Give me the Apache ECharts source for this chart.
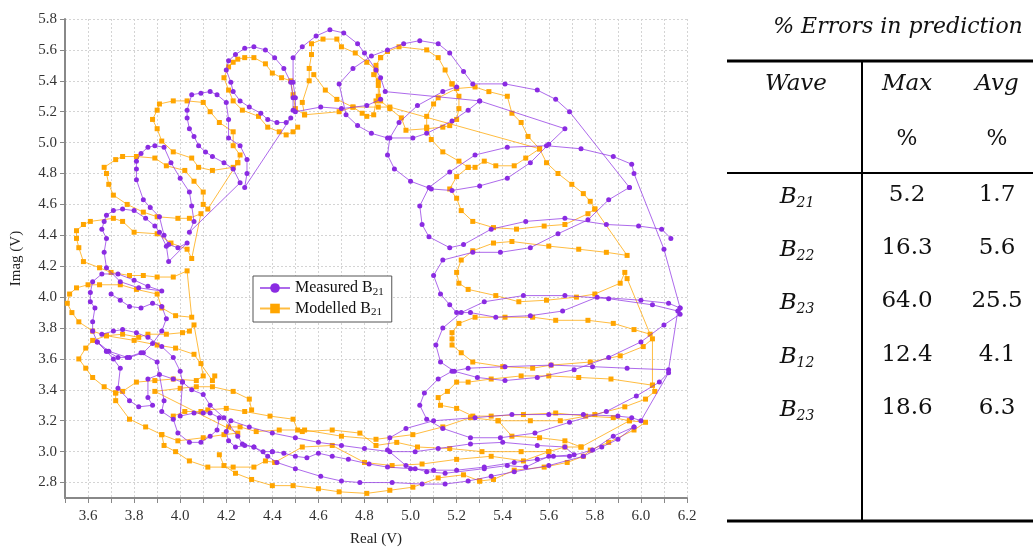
<!DOCTYPE html>
<html>
<head>
<meta charset="utf-8">
<script src="https://cdn.jsdelivr.net/npm/echarts@6/dist/echarts.min.js"></script>
<style>
  html, body { margin: 0; padding: 0; background: #fff; }
  #chart { width: 1033px; height: 552px; }
</style>
</head>
<body>
<div id="chart"></div>
<script>
// ---- measured B21 (purple) ----
const measuredUpperLeft = [
  [4.49,5.21],[4.49,5.29],[4.48,5.39],[4.45,5.48],[4.41,5.55],[4.37,5.60],[4.32,5.62],[4.28,5.61],[4.24,5.57],[4.21,5.53],
  [4.20,5.47],[4.22,5.39],[4.23,5.33],[4.26,5.27],[4.30,5.23],[4.35,5.19],[4.38,5.15],[4.42,5.13],[4.46,5.13],[4.48,5.16],
  [4.28,4.71],[4.29,4.80],[4.29,4.89],[4.26,4.98],[4.21,5.03],[4.21,5.15],[4.20,5.26],[4.16,5.31],[4.13,5.33],[4.09,5.32],
  [4.05,5.31],[4.03,5.21],[4.03,5.16],[4.04,5.09],[4.06,5.04],[4.08,4.98],[4.11,4.94],[4.14,4.91],[4.19,4.87],[4.23,4.83],[4.26,4.74],
  [4.04,4.42],[4.06,4.49],[4.05,4.59],[4.04,4.68],[4.00,4.77],[3.96,4.87],[3.93,4.97],[3.89,4.98],[3.86,4.97],[3.83,4.93],
  [3.81,4.88],[3.81,4.83],[3.81,4.76],[3.84,4.63],[3.87,4.58],[3.91,4.52],[3.93,4.40],[3.95,4.34],[3.99,4.32],[4.03,4.35],
  [3.95,4.23],[3.94,4.33],[3.91,4.42],[3.89,4.46],[3.85,4.51],[3.80,4.56],[3.75,4.57],[3.71,4.56],[3.68,4.53],[3.67,4.49],
  [3.66,4.44],[3.68,4.38],[3.67,4.29],[3.68,4.19],[3.74,4.10],[3.82,4.06],[3.92,4.04],
  [3.86,4.07],[3.80,4.11],[3.73,4.15],[3.66,4.15],[3.62,4.10],[3.61,4.03],[3.61,3.97],[3.63,3.93],[3.62,3.84],[3.62,3.78],
  [3.64,3.71],[3.68,3.65],[3.73,3.61],[3.78,3.61],[3.84,3.64],[3.88,3.70],[3.92,3.78],[3.94,3.86],[3.92,3.94],[3.88,3.96],
  [3.83,3.93],[3.78,3.94],[3.74,3.98],[3.70,4.02]
];
const measuredLowerLeft = [
  [3.66,3.76],[3.71,3.78],[3.75,3.79],[3.81,3.77],[3.86,3.74],[3.92,3.68],[3.97,3.61],[4.00,3.52],[4.01,3.45],[3.97,3.47],
  [3.91,3.50],[3.86,3.47],[3.86,3.35],[3.88,3.30],[3.82,3.29],[3.78,3.33],[3.73,3.41],[3.74,3.54],[3.71,3.60],[3.68,3.65],
  [3.64,3.71],[3.69,3.65],[3.77,3.61],[3.83,3.64],[3.90,3.58],[3.93,3.33],[3.92,3.26],[3.97,3.21],[3.99,3.12],[4.04,3.06],
  [4.09,3.06],[4.13,3.10],[4.16,3.14],[4.17,3.22],[4.13,3.25],[4.10,3.25],[4.06,3.25],[4.00,3.23],[4.01,3.45],[4.05,3.40],
  [4.10,3.37],[4.13,3.30],[4.19,3.22],[4.25,3.10],[4.27,3.05],[4.32,3.03],[4.36,3.00],[4.40,3.00]
];
const measuredBottom = [
  [4.40,3.00],[4.45,2.99],[4.50,2.97],[4.55,2.96],[4.60,2.99],[4.66,2.97],[4.73,2.95],[4.82,2.92],[4.90,2.90],[5.00,2.89],
  [5.10,2.88],[5.20,2.88],[5.32,2.90],[5.45,2.93],[5.55,2.95],[5.62,2.97],[5.71,2.98],[5.67,3.03],[5.55,3.04],[5.40,3.06],
  [5.26,3.05],[5.12,3.02],[5.02,3.00],[4.91,3.00],[4.80,3.02],[4.70,3.04],[4.60,3.06],[4.50,3.09],[4.40,3.12],[4.30,3.16],
  [4.22,3.20],[4.20,3.13],[4.21,3.07],[4.24,3.03],[4.28,3.04],[4.32,3.03],[4.38,2.97],[4.42,2.93],[4.50,2.89],[4.61,2.84],
  [4.70,2.81],[4.78,2.80],[4.92,2.80],[5.05,2.79],[5.15,2.79],[5.25,2.81],[5.35,2.84],[5.45,2.87],[5.60,2.91],[5.75,2.97],
  [5.83,3.03],[5.90,3.08],[5.97,3.16]
];
const measuredTop = [
  [4.87,5.28],[4.81,5.24],[4.70,5.22],[4.61,5.23],[4.50,5.20],[4.50,5.29],[4.49,5.39],[4.49,5.55],[4.53,5.62],[4.59,5.69],
  [4.65,5.73],[4.71,5.71],[4.77,5.64],[4.80,5.58],[4.85,5.47],[4.87,5.42],[4.89,5.33],
  [5.30,5.27],[5.25,5.21],[5.18,5.14],[5.07,5.06],[5.01,5.03],[4.90,5.03],[4.83,5.06],[4.77,5.11],[4.72,5.18],[4.69,5.38],
  [4.75,5.48],[4.83,5.56],[4.90,5.60],[4.97,5.64],[5.04,5.66],[5.12,5.64],[5.17,5.58],[5.23,5.46],[5.27,5.38],[5.41,5.38],
  [5.55,5.34],[5.63,5.28],[5.69,5.20],[5.95,4.71]
];
const measuredInnerTop = [
  [5.20,5.36],[5.14,5.33],[5.03,5.24],[4.95,5.13],[4.91,5.03],[4.90,4.92],[4.93,4.83],[5.00,4.75],[5.09,4.70],[5.18,4.69],
  [5.30,4.72],[5.42,4.77],[5.52,4.87],[5.60,4.99],[5.67,5.09],[5.30,5.27]
];
const measuredRight = [
  [5.95,4.71],[5.86,4.63],[5.77,4.50],[5.64,4.41],[5.52,4.32],[5.39,4.29],[5.27,4.29],[5.14,4.24],[5.10,4.14],[5.13,4.02],
  [5.17,3.95],[5.20,3.90],[5.26,3.90],[5.37,3.87],[5.52,3.88],[5.66,3.91],[5.81,4.00],[6.00,3.98],[6.12,3.96],[6.17,3.93],
  [6.17,3.89],[6.10,3.82],[6.00,3.71],[5.86,3.61],[5.71,3.53],[5.55,3.48],[5.41,3.46],[5.29,3.48],[5.19,3.52],[5.13,3.58],
  [5.11,3.69],[5.14,3.80],[5.22,3.90],[5.32,3.97],[5.49,4.01],[5.67,4.01],[5.86,3.99],[6.05,3.95],[6.16,3.91],[6.12,3.53],
  [5.94,3.54],[5.79,3.55],[5.61,3.56],[5.41,3.55],[5.25,3.54],[5.18,3.52],[5.12,3.47],[5.06,3.38],[5.04,3.30],[5.07,3.21],
  [5.14,3.15],[5.26,3.09],[5.39,3.09],[5.54,3.12],[5.69,3.19],[5.85,3.26],[5.98,3.36],[6.08,3.45],[6.12,3.51],[6.00,3.20],
  [5.96,3.22],[5.90,3.23],[5.75,3.24],[5.60,3.24],[5.44,3.24],[5.28,3.22],[5.10,3.20],[4.98,3.15],[4.91,3.09],[4.90,3.01],
  [4.98,2.91],[5.02,2.89],[5.07,2.87],[5.15,2.86],[5.32,2.89],[5.42,2.91],[5.50,2.90],[5.60,2.97],[5.69,2.97],[5.79,3.01],
  [5.88,3.10],[5.97,3.16]
];
const measuredOuter = [
  [6.17,3.93],[6.10,4.31],[5.97,4.80],[5.96,4.86],[5.88,4.91],[5.74,4.96],[5.59,4.98],[5.42,4.97],[5.28,4.92],[5.17,4.81],
  [5.08,4.71],[5.04,4.59],[5.05,4.47],[5.08,4.39],[5.17,4.32],[5.23,4.34],[5.35,4.44],[5.50,4.49],[5.67,4.51],[5.85,4.47],
  [5.99,4.46],[6.09,4.44],[6.13,4.38]
];

// ---- modelled B21 (orange) ----
const modelledTop = [
  [4.51,5.10],[4.49,5.07],[4.46,5.05],[4.43,5.07],[4.38,5.10],[4.34,5.17],[4.27,5.21],[4.23,5.27],[4.21,5.34],[4.19,5.42],
  [4.21,5.49],[4.23,5.52],[4.25,5.54],[4.28,5.55],[4.32,5.55],[4.37,5.51],[4.40,5.45],[4.44,5.42],[4.48,5.40],[4.49,5.31],
  [4.50,5.22],[4.54,5.18],[4.53,5.26],[4.56,5.40],[4.56,5.48],[4.57,5.57],[4.57,5.64],[4.62,5.67],[4.68,5.67],[4.70,5.62],
  [4.76,5.58],[4.81,5.52],[4.85,5.47],[4.86,5.37],[4.86,5.30],[4.85,5.27],[4.84,5.18],[4.81,5.17],[4.79,5.19],[4.75,5.23],
  [4.68,5.28],[4.63,5.34],[4.58,5.44]
];
const modelledTopRight = [
  [4.87,5.55],[4.85,5.50],[4.84,5.44],[4.86,5.40],[4.87,5.27],[4.91,5.22],[4.96,5.16],[4.98,5.08],[5.07,5.09],[5.14,5.10],
  [5.17,5.11],[5.20,5.15],[5.21,5.22],[5.21,5.30],[5.18,5.38],[5.15,5.47],[5.12,5.55],[5.07,5.60],[4.95,5.62],[4.90,5.59],
  [4.87,5.55]
];
const modelledChord = [[4.54,5.18],[4.69,5.20],[4.75,5.23],[4.86,5.23],[4.91,5.23],[5.56,4.96]];
const modelledLoopE = [
  [5.20,5.35],[5.12,5.29],[5.10,5.25],[5.07,5.17],[5.07,5.10],[5.09,5.02],[5.14,4.94],[5.21,4.88],[5.25,4.84],[5.28,4.84],
  [5.32,4.88],[5.37,4.85],[5.45,4.85],[5.50,4.90],[5.56,4.96]
];
const modelledLoopE2 = [
  [5.80,4.57],[5.77,4.54],[5.67,4.47],[5.58,4.46],[5.46,4.44],[5.36,4.45],[5.27,4.49],[5.22,4.56],[5.20,4.64],[5.17,4.70],
  [5.20,4.78],[5.25,4.84]
];
const modelledRight = [
  [5.18,5.38],[5.20,5.35],[5.28,5.36],[5.34,5.33],[5.42,5.30],[5.44,5.19],[5.48,5.13],[5.51,5.04],[5.56,4.96],[5.59,4.87],
  [5.64,4.80],[5.70,4.73],[5.75,4.67],[5.78,4.62],[5.80,4.57],[5.94,4.27],
  [5.85,4.29],[5.73,4.31],[5.60,4.33],[5.44,4.36],[5.36,4.35],[5.27,4.30],[5.22,4.24],[5.20,4.16],[5.21,4.09],[5.25,4.05],
  [5.37,4.01],[5.47,3.97],[5.59,3.98],[5.72,4.00],[5.80,4.02],[5.91,4.09],[5.93,4.16],[5.94,4.12],[6.04,3.76],
  [5.97,3.79],[5.88,3.83],[5.77,3.85],[5.63,3.85],[5.53,3.87],[5.41,3.87],[5.28,3.87],[5.21,3.83],[5.18,3.77],[5.18,3.73],
  [5.18,3.69],[5.22,3.64],[5.27,3.58],[5.40,3.55],[5.53,3.54],[5.61,3.56],[5.78,3.58],[5.91,3.62],[6.01,3.68],[6.05,3.73],
  [6.05,3.43],[5.87,3.47],[5.73,3.48],[5.60,3.49],[5.48,3.49],[5.35,3.47],[5.25,3.45],[5.20,3.45],[5.16,3.39],[5.12,3.35],
  [5.13,3.30],[5.20,3.28],[5.27,3.23],[5.35,3.23],[5.49,3.24],[5.63,3.25],[5.76,3.23],[5.88,3.22],[5.95,3.20],[6.02,3.19],
  [5.97,3.14],[5.86,3.06],[5.78,3.01],[5.75,2.97],[5.68,2.93],[5.58,2.90],[5.45,2.88],[5.36,2.82],[5.30,2.81]
];
const modelledRightArc = [
  [5.38,3.20],[5.52,3.20],[5.65,3.20],[5.80,3.24],[5.93,3.29],[6.02,3.34],[6.06,3.39],[6.05,3.43]
];
const modelledLeft = [
  [4.25,4.87],[4.23,4.84],[4.14,4.82],[4.08,4.84],[4.05,4.90],[3.97,4.94],[3.92,5.01],[3.90,5.09],[3.88,5.15],[3.90,5.21],
  [3.91,5.25],[3.97,5.27],[4.03,5.27],[4.10,5.26],[4.13,5.20],[4.17,5.13],[4.23,5.07],[4.23,4.98],[4.26,4.92],[4.25,4.87],
  [4.12,4.57],[4.10,4.60],[4.10,4.68],[4.06,4.75],[4.02,4.82],[3.94,4.85],[3.89,4.90],[3.81,4.91],[3.75,4.91],[3.72,4.89],
  [3.67,4.84],[3.68,4.80],[3.69,4.73],[3.71,4.66],[3.77,4.60],[3.84,4.55],[3.90,4.52],[3.99,4.51],[4.04,4.51],[4.09,4.54],
  [4.05,4.25],[4.03,4.31],[3.96,4.35],[3.90,4.41],[3.80,4.42],[3.75,4.49],[3.71,4.51],[3.61,4.49],[3.58,4.47],[3.55,4.43],
  [3.55,4.38],[3.56,4.32],[3.58,4.23],[3.65,4.19],[3.70,4.16],[3.78,4.14],[3.84,4.14],[3.90,4.13],[3.97,4.13],[4.03,4.17],
  [4.05,3.87],[3.98,3.88],[3.92,3.93],[3.90,4.02],[3.81,4.05],[3.74,4.08],[3.65,4.08],[3.60,4.08],[3.55,4.06],[3.52,4.02],
  [3.51,3.96],[3.53,3.90],[3.56,3.84],[3.62,3.78],[3.68,3.75],[3.75,3.76],[3.82,3.74],[3.86,3.76],[3.94,3.76],[4.01,3.77],
  [4.04,3.78],[4.06,3.82],[4.09,3.57],[4.10,3.49],[4.07,3.46],[3.97,3.47],[3.89,3.46],[3.81,3.45],[3.75,3.39],[3.72,3.38],
  [3.67,3.42],[3.62,3.48],[3.59,3.54],[3.56,3.60],[3.59,3.67],[3.62,3.72],[3.68,3.75],[3.80,3.72],[3.90,3.69],[3.98,3.67],
  [4.06,3.63],[4.14,3.46],[4.15,3.49]
];
const modelledLowerLeft = [
  [3.72,3.38],[3.72,3.33],[3.78,3.21],[3.85,3.16],[3.92,3.11],[3.99,3.07],[4.10,3.09],[4.19,3.11],[4.25,3.12],
  [3.89,3.39],[4.00,3.41],[4.07,3.42],[4.14,3.42],[4.23,3.39],[4.30,3.34],[4.31,3.27]
];
const modelledBottomA = [
  [3.97,3.23],[4.02,3.26],[4.09,3.26],[4.12,3.27],[4.20,3.28],[4.28,3.26],[4.39,3.23],[4.49,3.21],[4.51,3.14],[4.53,3.13],
  [4.66,3.14],[4.78,3.12],[4.85,3.04],[4.94,3.06],[5.03,3.03],[5.17,3.02],[5.31,3.00],[5.48,3.00],[5.60,3.00],[5.67,3.03],
  [5.74,3.03],[5.95,3.20]
];
const modelledBottomB = [
  [3.92,3.11],[3.93,3.04],[3.98,3.00],[4.04,2.94],[4.12,2.90],[4.23,2.90],[4.32,2.90],[4.37,2.94],[4.41,2.93],[4.53,3.03],
  [4.66,3.04],[4.80,2.93],[4.92,2.91],[5.05,2.92],[5.20,2.95],[5.35,2.97],[5.49,2.94],[5.60,3.00]
];
const modelledBottomC = [
  [4.17,2.98],[4.19,2.91],[4.24,2.86],[4.31,2.82],[4.40,2.78],[4.49,2.78],[4.60,2.76],[4.69,2.74],[4.81,2.73],[4.91,2.75],
  [5.01,2.77],[5.12,2.83],[5.23,2.85],[5.30,2.81]
];
const modelledBottomD = [
  [4.21,3.16],[4.26,3.16],[4.33,3.13],[4.43,3.14],[4.54,3.14],[4.70,3.10],[4.85,3.08],[5.01,3.11],[5.14,3.16],[5.26,3.22],
  [5.38,3.20],[5.44,3.10],[5.56,3.09],[5.67,3.07],[5.74,3.03]
];

// ---- error table ----
const waveNames = ['21', '22', '23', '12', '23'];
const maxErr = ['5.2', '16.3', '64.0', '12.4', '18.6'];
const avgErr = ['1.7', '5.6', '25.5', '4.1', '6.3'];

const yTicks = [2.8, 3.0, 3.2, 3.4, 3.6, 3.8, 4.0, 4.2, 4.4, 4.6, 4.8, 5.0, 5.2, 5.4, 5.6, 5.8];

const PURPLE = '#8a2be2';
const ORANGE = '#ffa500';
const SERIF = '"Liberation Serif", "DejaVu Serif", serif';
const TSERIF = '"DejaVu Serif", "Liberation Serif", serif';

function measured(data) {
  return {
    name: 'Measured B21', type: 'line', data: data,
    symbol: 'circle', symbolSize: 5, showSymbol: true,
    itemStyle: { color: PURPLE },
    lineStyle: { color: 'rgba(138,43,226,0.7)', width: 1 },
    emphasis: { disabled: true }, animation: false, z: 3
  };
}
function modelled(data) {
  return {
    name: 'Modelled B21', type: 'line', data: data,
    symbol: 'rect', symbolSize: 5, showSymbol: true,
    itemStyle: { color: ORANGE },
    lineStyle: { color: 'rgba(255,165,0,0.75)', width: 1 },
    emphasis: { disabled: true }, animation: false, z: 2
  };
}

const series = [
  modelled(modelledTop), modelled(modelledTopRight), modelled(modelledChord), modelled(modelledLoopE),
  modelled(modelledLoopE2), modelled(modelledRight), modelled(modelledRightArc), modelled(modelledLeft),
  modelled(modelledLowerLeft), modelled(modelledBottomA), modelled(modelledBottomB), modelled(modelledBottomC),
  modelled(modelledBottomD),
  measured(measuredUpperLeft), measured(measuredLowerLeft), measured(measuredBottom), measured(measuredTop),
  measured(measuredInnerTop), measured(measuredRight), measured(measuredOuter)
];

// table graphics
const graphic = [];
graphic.push({ type: 'text', x: 898, y: 27, style: { text: '% Errors in prediction', font: 'italic 22px ' + TSERIF, fill: '#111', align: 'center', verticalAlign: 'middle' } });
graphic.push({ type: 'line', shape: { x1: 727, y1: 61, x2: 1033, y2: 61 }, style: { stroke: '#000', lineWidth: 3 } });
graphic.push({ type: 'line', shape: { x1: 727, y1: 173, x2: 1033, y2: 173 }, style: { stroke: '#000', lineWidth: 2 } });
graphic.push({ type: 'line', shape: { x1: 727, y1: 521, x2: 1033, y2: 521 }, style: { stroke: '#000', lineWidth: 3 } });
graphic.push({ type: 'line', shape: { x1: 862, y1: 61, x2: 862, y2: 521 }, style: { stroke: '#000', lineWidth: 2 } });
[['Wave', 796], ['Max', 907], ['Avg', 997]].forEach(function (h) {
  graphic.push({ type: 'text', x: h[1], y: 84, style: { text: h[0], font: 'italic 23px ' + TSERIF, fill: '#111', align: 'center', verticalAlign: 'middle' } });
});
[907, 997].forEach(function (x) {
  graphic.push({ type: 'text', x: x, y: 139, style: { text: '%', font: '22px ' + TSERIF, fill: '#111', align: 'center', verticalAlign: 'middle' } });
});
const rowY = [195, 248, 301, 355, 408];
waveNames.forEach(function (w, i) {
  graphic.push({ type: 'text', x: 797, y: rowY[i], style: {
    text: '{b|B}{s|' + w + '}', align: 'center', verticalAlign: 'middle', fill: '#111',
    rich: { b: { font: 'italic 23px ' + TSERIF, fill: '#111', verticalAlign: 'bottom', lineHeight: 27 },
            s: { font: 'italic 14px ' + TSERIF, fill: '#111', verticalAlign: 'bottom', lineHeight: 27, padding: [0, 0, -2, 0] } }
  } });
  graphic.push({ type: 'text', x: 907, y: rowY[i], style: { text: maxErr[i], font: '23px ' + TSERIF, fill: '#111', align: 'center', verticalAlign: 'middle' } });
  graphic.push({ type: 'text', x: 997, y: rowY[i], style: { text: avgErr[i], font: '23px ' + TSERIF, fill: '#111', align: 'center', verticalAlign: 'middle' } });
});

const gridLine = { show: true, lineStyle: { color: '#d4d4d4', type: [2, 2], width: 1 } };

const option = {
  animation: false,
  backgroundColor: '#fff',
  grid: { left: 65, right: 346, top: 19, bottom: 53, containLabel: false },
  legend: {
    data: ['Measured B21', 'Modelled B21'],
    orient: 'vertical', left: 253, top: 276,
    backgroundColor: '#fff', borderColor: '#555', borderWidth: 1, borderRadius: 0,
    padding: [4, 8, 4, 6], itemGap: 3, itemWidth: 30, itemHeight: 12,
    selectedMode: false,
    formatter: function (name) { return name.replace('B21', 'B{s|21}'); },
    textStyle: { fontFamily: SERIF, fontSize: 16, color: '#111',
      rich: { s: { fontFamily: SERIF, fontSize: 11, color: '#111', verticalAlign: 'bottom', padding: [8, 0, 0, 0] } } }
  },
  xAxis: {
    type: 'value', min: 3.5, max: 6.2, interval: 0.1,
    name: 'Real (V)', nameLocation: 'middle', nameGap: 34,
    nameTextStyle: { fontFamily: SERIF, fontSize: 15, color: '#222' },
    axisLine: { show: true, onZero: false, lineStyle: { color: '#888', width: 2 } },
    axisTick: { show: true, length: 5, lineStyle: { color: '#888' } },
    axisLabel: { fontFamily: SERIF, fontSize: 15, color: '#333', margin: 11,
      formatter: function (v) { return Math.round(v * 10) % 2 === 0 ? v.toFixed(1) : ''; } },
    splitLine: gridLine
  },
  yAxis: {
    type: 'value', min: 2.7, max: 5.8, interval: 0.1,
    name: 'Imag (V)', nameLocation: 'middle', nameGap: 41,
    nameTextStyle: { fontFamily: SERIF, fontSize: 15, color: '#222' },
    axisLine: { show: true, onZero: false, lineStyle: { color: '#888', width: 2 } },
    axisTick: { show: true, length: 5, lineStyle: { color: '#888' }, customValues: yTicks },
    axisLabel: { fontFamily: SERIF, fontSize: 15, color: '#333', margin: 8, customValues: yTicks,
      formatter: function (v) { return Math.round(v * 10) % 2 === 0 ? v.toFixed(1) : ''; } },
    splitLine: gridLine
  },
  graphic: graphic,
  series: series
};

const chart = echarts.init(document.getElementById('chart'), null, { renderer: 'canvas' });
chart.setOption(option);
</script>
</body>
</html>
